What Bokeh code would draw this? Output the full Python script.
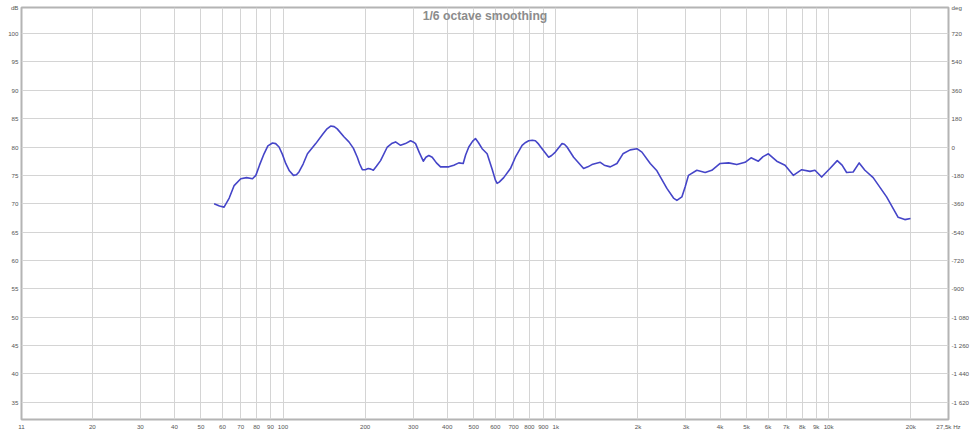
from bokeh.plotting import figure
from bokeh.models import Range1d, LinearAxis, FixedTicker, Label
from bokeh.embed import file_html
from bokeh.resources import INLINE

freq = [55.9, 58.5, 60.8, 63.5, 66.2, 70.0, 73.5, 77.3, 79.5, 82.0, 85.2, 88.0, 91.5,
        94.0, 96.7, 99.5, 102.3, 105.5, 109.2, 112.0, 114.4, 118.5, 122.9, 131.8,
        140.0, 145.0, 149.5, 154.0, 158.0, 167.2, 174.4, 181.0, 187.2, 191.0, 195.3,
        200.0, 205.4, 210.0, 214.3, 220.0, 227.8, 241.1, 250.0, 258.5, 264.0, 269.7,
        281.0, 293.5, 300.0, 306.1, 316.0, 326.7, 334.0, 342.3, 352.3, 365.0, 377.9,
        405.1, 422.6, 440.9, 457.5, 467.0, 479.7, 495.0, 507.4, 520.0, 536.9, 560.0,
        585.0, 600.0, 609.3, 620.0, 644.2, 681.6, 710.8, 752.3, 775.0, 795.4, 820.0,
        841.5, 865.0, 890.2, 941.2, 965.0, 995.7, 1054, 1075, 1099, 1162, 1264, 1310,
        1356, 1455, 1505, 1583, 1675, 1762, 1873, 1983, 2068, 2218, 2347, 2553, 2700,
        2778, 2897, 2980, 3063, 3288, 3526, 3730, 4002, 4300, 4607, 4940, 5196, 5525,
        5750, 6014, 6454, 6921, 7421, 7967, 8544, 8909, 9427, 10110, 10753, 11200,
        11640, 12300, 12940, 13580, 14560, 16310, 17980, 19020, 19960]
spl = [70.0, 69.6, 69.4, 71.0, 73.2, 74.4, 74.6, 74.4, 75.0, 76.8, 78.8, 80.2, 80.7,
       80.6, 80.0, 78.7, 77.1, 75.8, 75.0, 75.1, 75.6, 77.0, 78.8, 80.6,
       82.3, 83.2, 83.7, 83.6, 83.2, 81.8, 80.9, 79.8, 78.2, 77.0, 76.0,
       76.0, 76.2, 76.1, 75.9, 76.6, 77.6, 80.0, 80.6, 80.9, 80.6, 80.3,
       80.6, 81.1, 80.9, 80.6, 79.0, 77.5, 78.2, 78.5, 78.2, 77.2, 76.5,
       76.5, 76.8, 77.2, 77.1, 78.6, 80.0, 81.0, 81.5, 80.8, 79.7, 78.8,
       76.0, 74.2, 73.6, 73.8, 74.6, 76.2, 78.2, 80.3, 80.8, 81.1, 81.2,
       81.1, 80.5, 79.7, 78.2, 78.5, 79.1, 80.6, 80.5, 80.0, 78.2, 76.2, 76.5,
       76.9, 77.3, 76.8, 76.5, 77.1, 78.8, 79.5, 79.7, 79.1, 77.1, 75.8, 72.7, 71.0,
       70.6, 71.2, 73.0, 75.0, 75.9, 75.5, 75.9, 77.1, 77.2, 76.9, 77.3, 78.1, 77.5,
       78.3, 78.8, 77.5, 76.8, 75.0, 76.0, 75.7, 75.9, 74.7, 76.2, 77.6, 76.8,
       75.5, 75.6, 77.2, 75.9, 74.6, 71.2, 67.6, 67.2, 67.4]

x_ticks = [11, 20, 30, 40, 50, 60, 70, 80, 90, 100, 200, 300, 400, 500, 600, 700,
           800, 900, 1000, 2000, 3000, 4000, 5000, 6000, 7000, 8000, 9000, 10000,
           20000, 27500]
x_labels = ["11", "20", "30", "40", "50", "60", "70", "80", "90", "100", "200", "300",
            "400", "500", "600", "700", "800", "900", "1k", "2k", "3k", "4k", "5k",
            "6k", "7k", "8k", "9k", "10k", "20k", "27,5k Hz"]
db_ticks = [35, 40, 45, 50, 55, 60, 65, 70, 75, 80, 85, 90, 95, 100]
db_labels = [str(t) for t in db_ticks]
deg_ticks = [-1620, -1440, -1260, -1080, -900, -720, -540, -360, -180, 0, 180, 360, 540, 720]
deg_labels = ["-1 620", "-1 440", "-1 260", "-1 080", "-900", "-720", "-540", "-360",
              "-180", "0", "180", "360", "540", "720"]
left_unit, right_unit = "dB", "deg"

X_MIN, X_MAX = 11, 27500
Y_MIN, Y_MAX = 31.95, 104.6
DEG_MIN, DEG_MAX = (Y_MIN - 80) * 36, (Y_MAX - 80) * 36
FONT = "Liberation Sans"
TICK_COLOR = "#555555"

p = figure(width=975, height=432, x_axis_type="log",
           x_range=Range1d(X_MIN, X_MAX), y_range=Range1d(Y_MIN, Y_MAX),
           output_backend="svg", toolbar_location=None,
           min_border_left=21, min_border_right=27, min_border_top=7, min_border_bottom=13)
p.background_fill_color = "white"
p.border_fill_color = "white"
p.outline_line_color = "#b4b4b4"
p.outline_line_width = 2

p.extra_y_ranges = {"deg": Range1d(DEG_MIN, DEG_MAX)}

p.xaxis.ticker = FixedTicker(ticks=x_ticks, minor_ticks=[])
p.xaxis.major_label_overrides = {t: l for t, l in zip(x_ticks, x_labels)}

# the unit names sit at the top end of each vertical axis
left_overrides = {t: l for t, l in zip(db_ticks, db_labels)}
left_overrides[Y_MAX] = left_unit
p.yaxis.ticker = FixedTicker(ticks=db_ticks + [Y_MAX], minor_ticks=[])
p.yaxis.major_label_overrides = left_overrides
p.ygrid.ticker = FixedTicker(ticks=db_ticks, minor_ticks=[])

right_overrides = {t: l for t, l in zip(deg_ticks, deg_labels)}
right_overrides[DEG_MAX] = right_unit
raxis = LinearAxis(y_range_name="deg",
                   ticker=FixedTicker(ticks=deg_ticks + [DEG_MAX], minor_ticks=[]),
                   major_label_overrides=right_overrides)
p.add_layout(raxis, "right")

for ax in [p.xaxis[0], p.yaxis[0], raxis]:
    ax.axis_line_color = None
    ax.major_tick_line_color = None
    ax.minor_tick_line_color = None
    ax.major_tick_out = 0
    ax.major_tick_in = 0
    ax.major_label_text_font = FONT
    ax.major_label_text_font_size = "6.2px"
    ax.major_label_text_color = TICK_COLOR
    ax.major_label_standoff = 3

p.xgrid.grid_line_color = "#d4d4d4"
p.ygrid.grid_line_color = "#d4d4d4"
p.xgrid.grid_line_width = 1
p.ygrid.grid_line_width = 1

p.line(freq, spl, line_color="#4545c8", line_width=1.6, line_join="round")

p.add_layout(Label(x=(X_MIN * X_MAX) ** 0.5, y=Y_MAX, y_offset=-1.5, text="1/6 octave smoothing",
                   text_align="center", text_baseline="top", text_font=FONT,
                   text_font_style="bold", text_font_size="12.2px", text_color="#8c8c8c"))

open("out.html", "w").write(file_html(p, INLINE))
